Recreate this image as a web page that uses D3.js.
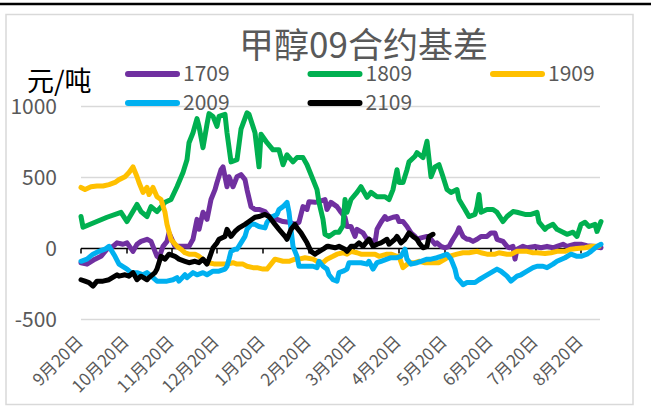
<!DOCTYPE html>
<html>
<head>
<meta charset="utf-8">
<script src="https://cdn.jsdelivr.net/npm/d3@7"></script>
<style>
  body { margin: 0; background: #fff; }
  svg { display: block; }
  text { font-family: "Noto Sans CJK SC", "Noto Sans", sans-serif; }
</style>
</head>
<body>
<svg width="651" height="406"></svg>
<script>
// [trading day since 9月20日, basis 元/吨]
const s1709 = [[0,-100],[3,-110],[7,-75],[10,-55],[13,-5],[16,15],[18,40],[21,30],[23,40],[26,-20],[28,30],[30,50],[33,65],[35,50],[38,-55],[39,-65],[41,15],[43,50],[44,110],[47,15],[51,15],[54,15],[56,65],[58,205],[59,135],[61,255],[63,205],[65,345],[67,415],[68,465],[70,555],[71,575],[73,435],[74,505],[76,435],[78,505],[80,520],[82,485],[83,415],[85,295],[87,275],[89,275],[92,260],[94,225],[98,205],[101,190],[104,185],[107,170],[109,185],[111,295],[113,275],[114,330],[117,325],[119,330],[122,345],[123,275],[125,325],[128,295],[130,255],[132,220],[133,155],[135,155],[137,85],[138,135],[141,110],[143,65],[144,65],[147,40],[148,135],[150,185],[152,225],[153,205],[156,220],[158,225],[159,190],[161,190],[163,155],[165,110],[167,85],[168,65],[170,75],[173,85],[175,65],[177,30],[178,40],[180,15],[182,5],[184,15],[186,65],[188,110],[189,145],[191,85],[193,65],[194,65],[196,50],[198,65],[200,85],[203,85],[205,110],[207,110],[208,65],[211,50],[213,15],[214,5],[216,15],[217,-75],[218,-5],[221,15],[223,5],[227,15],[230,5],[233,15],[236,5],[238,15],[241,30],[243,15],[247,30],[250,30],[253,20],[257,15],[260,5]];

const s1809 = [[0,225],[1,150],[7,185],[13,220],[20,255],[23,190],[28,310],[30,260],[33,225],[35,295],[38,260],[42,325],[45,345],[48,435],[51,535],[53,625],[54,745],[56,815],[58,915],[59,860],[61,710],[63,875],[64,950],[66,930],[68,860],[69,930],[72,945],[73,815],[75,610],[78,625],[80,840],[83,955],[84,945],[87,815],[89,575],[90,805],[93,745],[96,695],[99,695],[101,590],[103,660],[106,610],[108,640],[111,640],[113,590],[116,485],[118,415],[119,325],[121,205],[122,100],[124,85],[127,115],[129,115],[131,160],[132,345],[133,255],[135,345],[138,395],[140,435],[143,360],[145,395],[148,365],[152,365],[154,345],[156,415],[158,555],[159,465],[161,465],[163,555],[164,610],[167,650],[168,675],[171,640],[173,755],[175,505],[177,575],[179,590],[181,505],[183,415],[185,395],[188,415],[189,345],[192,275],[194,225],[197,240],[198,295],[199,380],[200,255],[203,275],[206,275],[208,255],[211,190],[213,225],[216,260],[218,255],[222,240],[225,240],[228,255],[229,185],[232,135],[233,150],[236,170],[238,135],[241,115],[243,100],[246,115],[248,85],[250,170],[252,185],[254,155],[257,170],[258,120],[260,190]];

const s1909 = [[0,430],[2,415],[5,435],[8,440],[11,440],[14,450],[17,465],[19,485],[22,505],[24,535],[26,575],[28,505],[29,465],[31,395],[33,430],[34,380],[36,430],[38,365],[40,345],[42,255],[43,170],[45,65],[48,15],[50,-5],[52,-30],[54,-40],[57,-40],[59,-55],[62,-90],[64,-100],[67,-110],[69,-110],[73,-110],[76,-100],[78,-110],[81,-110],[83,-125],[86,-135],[88,-135],[91,-145],[93,-145],[95,-110],[97,-75],[101,-90],[104,-90],[107,-75],[109,-75],[112,-65],[116,-75],[118,-90],[121,-100],[123,-75],[126,-55],[128,-40],[131,-30],[133,-40],[135,-20],[138,-30],[140,-40],[143,-40],[147,-40],[149,-55],[153,-40],[155,-40],[158,-55],[159,-55],[161,-135],[164,-100],[167,-100],[169,-90],[172,-100],[175,-100],[179,-100],[182,-75],[184,-55],[188,-40],[191,-30],[194,-30],[198,-20],[200,-30],[203,-40],[207,-40],[209,-30],[213,-40],[215,-40],[218,-20],[220,-20],[223,-20],[226,-30],[228,-30],[232,-35],[235,-30],[238,-20],[242,-20],[245,-5],[248,0],[252,5],[255,15],[259,15]];

const s2009 = [[0,-90],[3,-75],[6,-40],[9,-20],[12,-5],[14,15],[17,-55],[19,-110],[23,-145],[25,-170],[28,-170],[31,-185],[33,-170],[36,-205],[38,-230],[41,-230],[43,-230],[46,-220],[48,-205],[49,-230],[52,-185],[53,-205],[56,-170],[58,-185],[61,-170],[63,-185],[66,-160],[69,-160],[72,-145],[73,-125],[74,-75],[75,-20],[77,-5],[78,-5],[80,40],[82,85],[83,135],[85,170],[87,170],[89,155],[92,145],[93,185],[95,220],[98,240],[99,275],[101,295],[103,325],[104,255],[105,135],[106,15],[108,-55],[109,-125],[111,-125],[113,-125],[116,-125],[118,-135],[119,-90],[121,-125],[123,-145],[124,-185],[126,-220],[128,-230],[129,-170],[131,-160],[133,-145],[134,-100],[137,-100],[140,-100],[143,-110],[144,-90],[146,-145],[148,-100],[150,-90],[153,-75],[155,-65],[158,-65],[160,-55],[162,-5],[163,-75],[165,-110],[168,-100],[170,-90],[173,-75],[175,-75],[178,-65],[180,-55],[183,-40],[185,-75],[187,-145],[188,-205],[191,-255],[193,-240],[197,-240],[199,-220],[202,-195],[205,-170],[208,-145],[210,-160],[213,-195],[215,-230],[218,-195],[220,-185],[223,-160],[226,-135],[228,-125],[231,-125],[233,-135],[236,-110],[238,-90],[242,-65],[245,-40],[248,-55],[250,-55],[253,-40],[255,-20],[258,15],[260,30]];

const s2109 = [[0,-220],[2,-230],[4,-240],[6,-265],[8,-230],[11,-230],[14,-220],[18,-185],[19,-195],[22,-185],[24,-195],[26,-170],[28,-220],[30,-195],[33,-220],[34,-205],[37,-170],[38,-145],[40,-55],[42,-75],[44,-40],[47,-55],[49,-75],[52,-90],[54,-100],[57,-90],[59,-100],[61,-75],[63,-110],[64,-75],[66,5],[68,40],[69,65],[72,85],[73,135],[75,85],[77,120],[79,145],[82,170],[84,190],[87,220],[89,225],[92,240],[94,225],[97,170],[99,135],[102,85],[103,65],[105,135],[107,170],[108,145],[110,110],[113,40],[115,-20],[117,-40],[118,-30],[121,-5],[123,15],[124,15],[127,5],[129,15],[132,-5],[133,-20],[135,15],[137,15],[139,40],[141,15],[143,50],[144,65],[146,15],[148,30],[150,40],[153,65],[154,30],[157,65],[158,85],[160,40],[162,65],[164,110],[166,85],[168,65],[169,40],[171,5],[173,15],[174,85],[176,100]];

const seriesNames = ["1709", "1809", "1909", "2009", "2109"];
const seriesData = [s1709, s1809, s1909, s2009, s2109];
const seriesColors = ["#7030a0", "#00b050", "#ffc000", "#00b0f0", "#000000"];

const tickDays = [0, 23, 45.5, 68, 91, 114, 136.5, 159, 182, 205, 227.5, 250];
const tickLabels = ["9月20日", "10月20日", "11月20日", "12月20日", "1月20日", "2月20日",
  "3月20日", "4月20日", "5月20日", "6月20日", "7月20日", "8月20日"];
const yTicks = [-500, 0, 500, 1000];

const svg = d3.select("svg");
const width = +svg.attr("width");

const x = d3.scaleLinear().domain([0, 260]).range([81, 601]);
const y = d3.scaleLinear().domain([-500, 1000]).range([319.5, 106.5]);

// page rule and chart frame
svg.append("line")
  .attr("x1", 0).attr("x2", width)
  .attr("y1", 4).attr("y2", 4)
  .attr("stroke", "#000").attr("stroke-width", 2.5);

svg.append("rect")
  .attr("x", 6).attr("y", 14.5)
  .attr("width", 627).attr("height", 390)
  .attr("fill", "none")
  .attr("stroke", "#d9d9d9").attr("stroke-width", 1.5);

// gridlines
svg.append("g")
  .selectAll("line")
  .data(yTicks.filter(d => d !== 0))
  .join("line")
    .attr("x1", x(0)).attr("x2", 600)
    .attr("y1", d => y(d)).attr("y2", d => y(d))
    .attr("stroke", "#d9d9d9").attr("stroke-width", 1.5);

svg.append("g")
  .selectAll("text")
  .data(yTicks)
  .join("text")
    .attr("x", 57)
    .attr("y", d => y(d))
    .attr("dy", "0.35em")
    .attr("text-anchor", "end")
    .attr("fill", "#595959")
    .attr("font-size", 21)
    .text(d => d);

// zero axis with month ticks
const axisG = svg.append("g");
axisG.append("line")
  .attr("x1", x(0)).attr("x2", 600)
  .attr("y1", y(0)).attr("y2", y(0))
  .attr("stroke", "#000").attr("stroke-width", 1.5);
axisG.selectAll("line.tick")
  .data(tickDays)
  .join("line")
    .attr("class", "tick")
    .attr("x1", d => x(d)).attr("x2", d => x(d))
    .attr("y1", y(0)).attr("y2", y(0) + 5)
    .attr("stroke", "#000").attr("stroke-width", 1.5);

svg.append("g")
  .selectAll("text")
  .data(tickDays)
  .join("text")
    .attr("transform", (d) => `translate(${x(d) + 3},${343}) rotate(-45)`)
    .attr("text-anchor", "end")
    .attr("fill", "#595959")
    .attr("font-size", 17)
    .text((d, i) => tickLabels[i]);

// series
const line = d3.line()
  .x(d => x(d[0]))
  .y(d => y(d[1]));

svg.append("g")
  .selectAll("path")
  .data(seriesData)
  .join("path")
    .attr("d", line)
    .attr("fill", "none")
    .attr("stroke", (d, i) => seriesColors[i])
    .attr("stroke-width", 5)
    .attr("stroke-linejoin", "round")
    .attr("stroke-linecap", "round");

// title and unit
svg.append("text")
  .attr("x", 363.5).attr("y", 58)
  .attr("text-anchor", "middle")
  .attr("fill", "#595959")
  .attr("font-size", 35)
  .text("甲醇09合约基差");

svg.append("text")
  .attr("x", 27).attr("y", 91)
  .attr("fill", "#000")
  .attr("font-size", 27)
  .text("元/吨");

// legend
const legendG = svg.append("g")
  .selectAll("g")
  .data(seriesNames)
  .join("g")
    .attr("transform", (d, i) => `translate(${125 + (i % 3) * 182.5},${74 + Math.floor(i / 3) * 29})`);

legendG.append("line")
  .attr("x1", 3).attr("x2", 52)
  .attr("stroke", (d, i) => seriesColors[i])
  .attr("stroke-width", 6)
  .attr("stroke-linecap", "round");

legendG.append("text")
  .attr("x", 58)
  .attr("dy", "0.35em")
  .attr("fill", "#595959")
  .attr("font-size", 21)
  .text(d => d);
</script>
</body>
</html>
